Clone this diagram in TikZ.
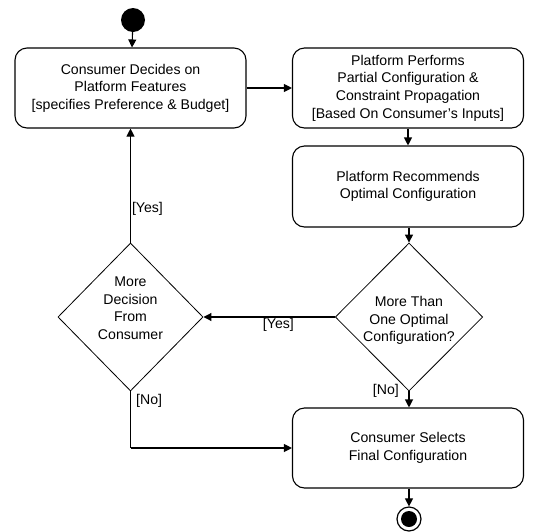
\documentclass[tikz,border=0pt]{standalone}
\usepackage{fontspec}
\setmainfont{Liberation Sans}
\usetikzlibrary{shapes.geometric,arrows.meta}
\begin{document}
\begin{tikzpicture}[x=1pt,y=-1pt,
  act/.style={draw,line width=1.1pt,rounded corners=12pt,minimum width=231pt,minimum height=80pt,align=center,font=\fontsize{14.1}{17.6}\selectfont,inner sep=2pt},
  dec/.style={draw,line width=0.8pt,diamond,minimum width=145pt,minimum height=148pt,inner sep=0pt,align=center,font=\fontsize{14.1}{17.6}\selectfont},
  flow/.style={line width=1.1pt,-{Triangle[length=8pt,width=8pt]}},
  lbl/.style={font=\fontsize{14.1}{17}\selectfont,inner sep=1pt}]
\useasboundingbox (0,0) rectangle (536,531);
\node[circle,fill=black,minimum size=24pt,inner sep=0pt] (start) at (133,20) {};
\node[act] (a1) at (130.5,88) {Consumer Decides on\\Platform Features\\{[specifies Preference \& Budget]}};
\node[act] (a2) at (408,88) {Platform Performs\\Partial Configuration \&\\Constraint Propagation\\{[Based On Consumer’s Inputs]}};
\node[act,minimum height=81pt] (a3) at (408,186.5) {Platform Recommends\\Optimal Configuration};
\node[dec] (d2) at (409,317) {\\More Than\\One Optimal\\Configuration?};
\node[dec] (d1) at (130.5,317) {More\\Decision\\From\\Consumer\\ };
\node[act] (a4) at (408,448) {Consumer Selects\\Final Configuration};
\node[circle,draw,line width=1.2pt,minimum size=24pt,inner sep=0pt] (end) at (409,519) {};
\node[circle,fill=black,minimum size=16pt,inner sep=0pt] (endin) at (409,519) {};
\coordinate (c1) at (130.5,448);
\draw[flow] (start) -- (a1);
\draw[flow] (a1) -- (a2);
\draw[flow] (a2.south -| a3) -- (a3);
\draw[flow] (a3.south -| d2) -- (d2.north);
\draw[flow] (d2.west) -- node[lbl,below,pos=0.43] {[Yes]} (d1.east);
\draw[flow] (d1.north) -- node[lbl,right,pos=0.3] {[Yes]} (a1.south -| d1.north);
\draw[flow] (d2.south) -- (a4.north -| d2.south);
\node[lbl,anchor=east] (lno2) at (400,391) {[No]};
\draw[line width=1.1pt] (d1.south) -- (c1);
\node[lbl,anchor=west] (lno1) at (135,401) {[No]};
\draw[flow] (c1) -- (a4.west);
\draw[flow] (a4.south -| end) -- (end);
\end{tikzpicture}
\end{document}
